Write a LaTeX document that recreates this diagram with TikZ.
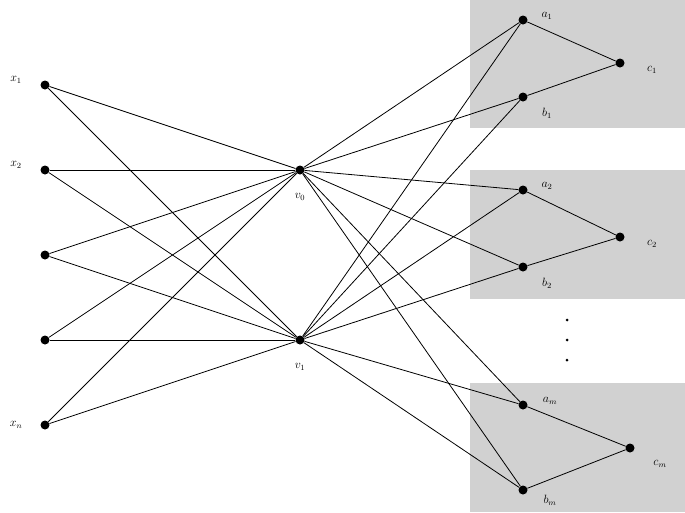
\documentclass[tikz,border=0pt]{standalone}
\begin{document}
\begin{tikzpicture}[x=1pt,y=-1pt,
  dot/.style={circle,fill=black,inner sep=0pt,minimum size=9pt},
  box/.style={fill=black!18,draw=none},
  lab/.style={font=\large},
  e/.style={line width=0.8pt}]
\useasboundingbox (0,0) rectangle (685,512);
\fill[box] (470,0) rectangle (685,128);
\fill[box] (470,170) rectangle (685,299);
\fill[box] (470,383) rectangle (685,512);
\node[dot] (x1) at (45,85) {};
\node[dot] (x2) at (45,170) {};
\node[dot] (x3) at (45,255) {};
\node[dot] (x4) at (45,340) {};
\node[dot] (xn) at (45,425) {};
\node[dot] (v0) at (300,170) {};
\node[dot] (v1) at (300,340) {};
\node[dot] (a1) at (523,20) {};
\node[dot] (b1) at (523,97) {};
\node[dot] (c1) at (620,63) {};
\node[dot] (a2) at (523,190) {};
\node[dot] (b2) at (523,267) {};
\node[dot] (c2) at (620,237) {};
\node[dot] (am) at (523,405) {};
\node[dot] (bm) at (523,490) {};
\node[dot] (cm) at (630,448) {};
\node[lab] (lx1) at (16,80) {$x_1$};
\node[lab] (lx2) at (16,165) {$x_2$};
\node[lab] (lxn) at (16,425) {$x_n$};
\node[lab] (lv0) at (300,197) {$v_0$};
\node[lab] (lv1) at (300,367) {$v_1$};
\node[lab] (la1) at (547,16) {$a_1$};
\node[lab] (lb1) at (547,113) {$b_1$};
\node[lab] (lc1) at (652,70) {$c_1$};
\node[lab] (la2) at (547,186) {$a_2$};
\node[lab] (lb2) at (547,283) {$b_2$};
\node[lab] (lc2) at (652,244) {$c_2$};
\node[lab] (lam) at (550,401) {$a_m$};
\node[lab] (lbm) at (550,500) {$b_m$};
\node[lab] (lcm) at (660,464) {$c_m$};
\node[dot,minimum size=3pt] (d1) at (567,320) {};
\node[dot,minimum size=3pt] (d2) at (567,340) {};
\node[dot,minimum size=3pt] (d3) at (567,360) {};
\foreach \x in {x1,x2,x3,x4,xn}{\draw[e] (\x) -- (v0); \draw[e] (\x) -- (v1);}
\foreach \y in {a1,b1,a2,b2,am,bm}{\draw[e] (v0) -- (\y); \draw[e] (v1) -- (\y);}
\draw[e] (a1) -- (c1) -- (b1);
\draw[e] (a2) -- (c2) -- (b2);
\draw[e] (am) -- (cm) -- (bm);
\end{tikzpicture}
\end{document}
